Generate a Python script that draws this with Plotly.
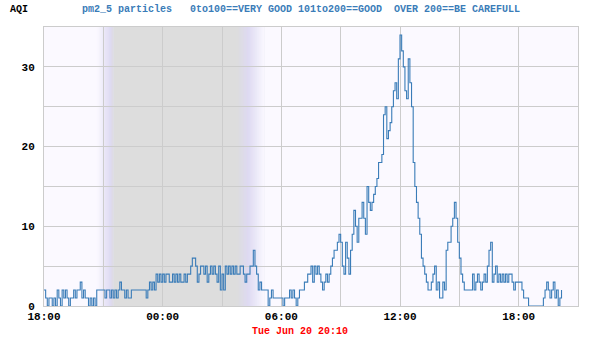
import pandas as pd
import numpy as np
import plotly.graph_objects as go

# ---- data: pm2_5 AQI, 5-minute samples from Mon Jun 19 18:00 ----
start_time = "2017-06-19 18:00"
h18 = [2,1,0,1,1,0,1,0,2,1,0,2]
h19 = [1,2,1,0,1,1,2,1,2,2,3,1]
h20 = [2,1,1,0,1,0,1,0,2,2,2,2]
h21 = [2,1,2,2,1,2,1,2,1,2,3,2]
h22 = [2,1,2,1,1,2,2,2,2,2,2,2]
h23 = [2,2,1,2,3,2,3,2,4,3,4,3]
h00 = [4,3,4,4,3,3,4,3,4,3,4,3]
h01 = [3,4,3,4,4,5,6,6,5,3,4,5]
h02 = [5,4,5,3,4,5,4,5,4,3,5,2]
h03 = [4,2,5,4,5,4,5,4,5,4,4,5]
h04 = [5,4,3,4,4,5,5,7,5,4,2,3]
h05 = [2,2,2,2,0,1,2,1,1,1,1,1]
h06 = [1,0,1,1,1,2,1,2,1,0,1,2]
h07 = [2,2,3,3,4,4,5,3,5,4,5,4]
h08 = [3,2,3,4,3,4,5,6,7,7,8,9]
h09 = [8,5,4,8,6,4,7,9,12,10,8,11]
h10 = [11,13,11,9,15,13,12,13,14,15,16,18]
h11 = [18,19,24,25,21,22,23,25,27,28,26,31]
h12 = [34,32,30,27,26,31,28,25,18,15,13,11]
h13 = [9,6,5,4,3,2,2,3,4,5,2,3]
h14 = [1,1,3,2,7,8,8,10,11,13,11,8]
h15 = [6,4,3,2,2,2,2,2,4,2,3,4]
h16 = [3,2,3,4,3,5,7,8,3,4,5,3]
h17 = [4,3,4,3,4,3,4,4,3,2,3,3]
h18b = [3,3,2,1,1,1,0,0,0,0,0,0]
h19b = [0,0,0,1,2,3,2,1,2,3,1,2]
h20b = [0,1,2]
values = (h18+h19+h20+h21+h22+h23+h00+h01+h02+h03+h04+h05+h06+h07+h08+h09
          +h10+h11+h12+h13+h14+h15+h16+h17+h18b+h19b+h20b)
times = pd.date_range(start_time, periods=len(values), freq="5min")

x_range = ["2017-06-19 18:00", "2017-06-20 21:00"]
y_range = [0, 35]
title_left = "AQI"
title_main = "pm2_5 particles   0to100==VERY GOOD 101to200==GOOD  OVER 200==BE CAREFULL"
date_label = "Tue Jun 20 20:10"

# night shading times
dusk = ["2017-06-19 20:40", "2017-06-19 21:22", "2017-06-19 21:32"]
dawn = ["2017-06-20 03:45", "2017-06-20 04:20", "2017-06-20 05:10"]

BG = np.array([251, 249, 255])
LAV = np.array([222, 218, 242])
GRAY = np.array([221, 221, 221])

fig = go.Figure()
fig.add_trace(go.Scatter(x=times, y=values, mode="lines", line_shape="hv",
                         line=dict(color="#3a7cb8", width=1.1), hoverinfo="skip"))

def rgb(c):
    return "rgb(%d,%d,%d)" % tuple(np.round(c).astype(int))

def strips(t0, t1, c0, c1, n, t_end):
    # overlapping strips: each strip runs to t_end so no seams appear
    ts = pd.date_range(t0, t1, periods=n + 1)
    for i in range(n):
        f = (i + 0.5) / n
        fig.add_vrect(x0=ts[i], x1=t_end, fillcolor=rgb(c0 * (1 - f) + c1 * f),
                      line_width=0, layer="below")

strips(dusk[0], dusk[1], BG, LAV, 18, dawn[2])
strips(dusk[1], dusk[2], LAV, GRAY, 5, dawn[2])
# dawn side: strips drawn from the far edge inwards
ts = pd.date_range(dawn[0], dawn[2], periods=33)
mid = pd.Timestamp(dawn[1])
for i in range(32, 0, -1):
    tc = ts[i - 1] + (ts[i] - ts[i - 1]) / 2
    if tc <= mid:
        f = (tc - pd.Timestamp(dawn[0])) / (mid - pd.Timestamp(dawn[0]))
        c = GRAY * (1 - f) + LAV * f
    else:
        f = (tc - mid) / (pd.Timestamp(dawn[2]) - mid)
        c = LAV * (1 - f) + BG * f
    fig.add_vrect(x0=dusk[2], x1=ts[i], fillcolor=rgb(c), line_width=0, layer="below")
fig.add_vrect(x0=dusk[2], x1=dawn[0], fillcolor=rgb(GRAY), line_width=0, layer="below")

mono = "Liberation Mono"
fig.update_layout(
    width=600, height=340,
    margin=dict(l=44, r=22, t=27, b=34),
    paper_bgcolor="white", plot_bgcolor=rgb(BG),
    showlegend=False,
    xaxis=dict(range=x_range, type="date", tickformat="%H:%M",
               tick0="2017-06-19 18:00", dtick=6 * 3600 * 1000,
               showgrid=True, gridcolor="#cccccc", gridwidth=1,
               minor=dict(dtick=3 * 3600 * 1000, showgrid=True, gridcolor="#cccccc", gridwidth=1),
               showline=True, linecolor="#cccccc", mirror=True, zeroline=False,
               ticks="", ticklen=0,
               tickfont=dict(family=mono, size=11, color="black", weight="bold")),
    yaxis=dict(range=y_range, dtick=10, showgrid=True, gridcolor="#cccccc", gridwidth=1,
               minor=dict(dtick=5, showgrid=True, gridcolor="#cccccc", gridwidth=1),
               showline=True, linecolor="#cccccc", mirror=True, zeroline=False,
               ticks="", ticklabelstandoff=6,
               tickfont=dict(family=mono, size=11, color="black", weight="bold")),
)

fig.add_annotation(text=title_left, xref="paper", yref="paper", x=(8 - 44) / 534, y=(306 - 9) / 279,
                   xanchor="left", yanchor="middle", showarrow=False,
                   font=dict(family=mono, size=10, color="black", weight="bold"))
fig.add_annotation(text=title_main, xref="paper", yref="paper", x=(80 - 44) / 534, y=(306 - 9) / 279,
                   xanchor="left", yanchor="middle", showarrow=False,
                   font=dict(family=mono, size=10, color="#3a7cb8", weight="bold"))
fig.add_annotation(text=date_label, xref="paper", yref="paper", x=(300 - 44) / 534, y=(306 - 331) / 279,
                   xanchor="center", yanchor="middle", showarrow=False,
                   font=dict(family=mono, size=10, color="red", weight="bold"))

fig.write_html("out.html")
